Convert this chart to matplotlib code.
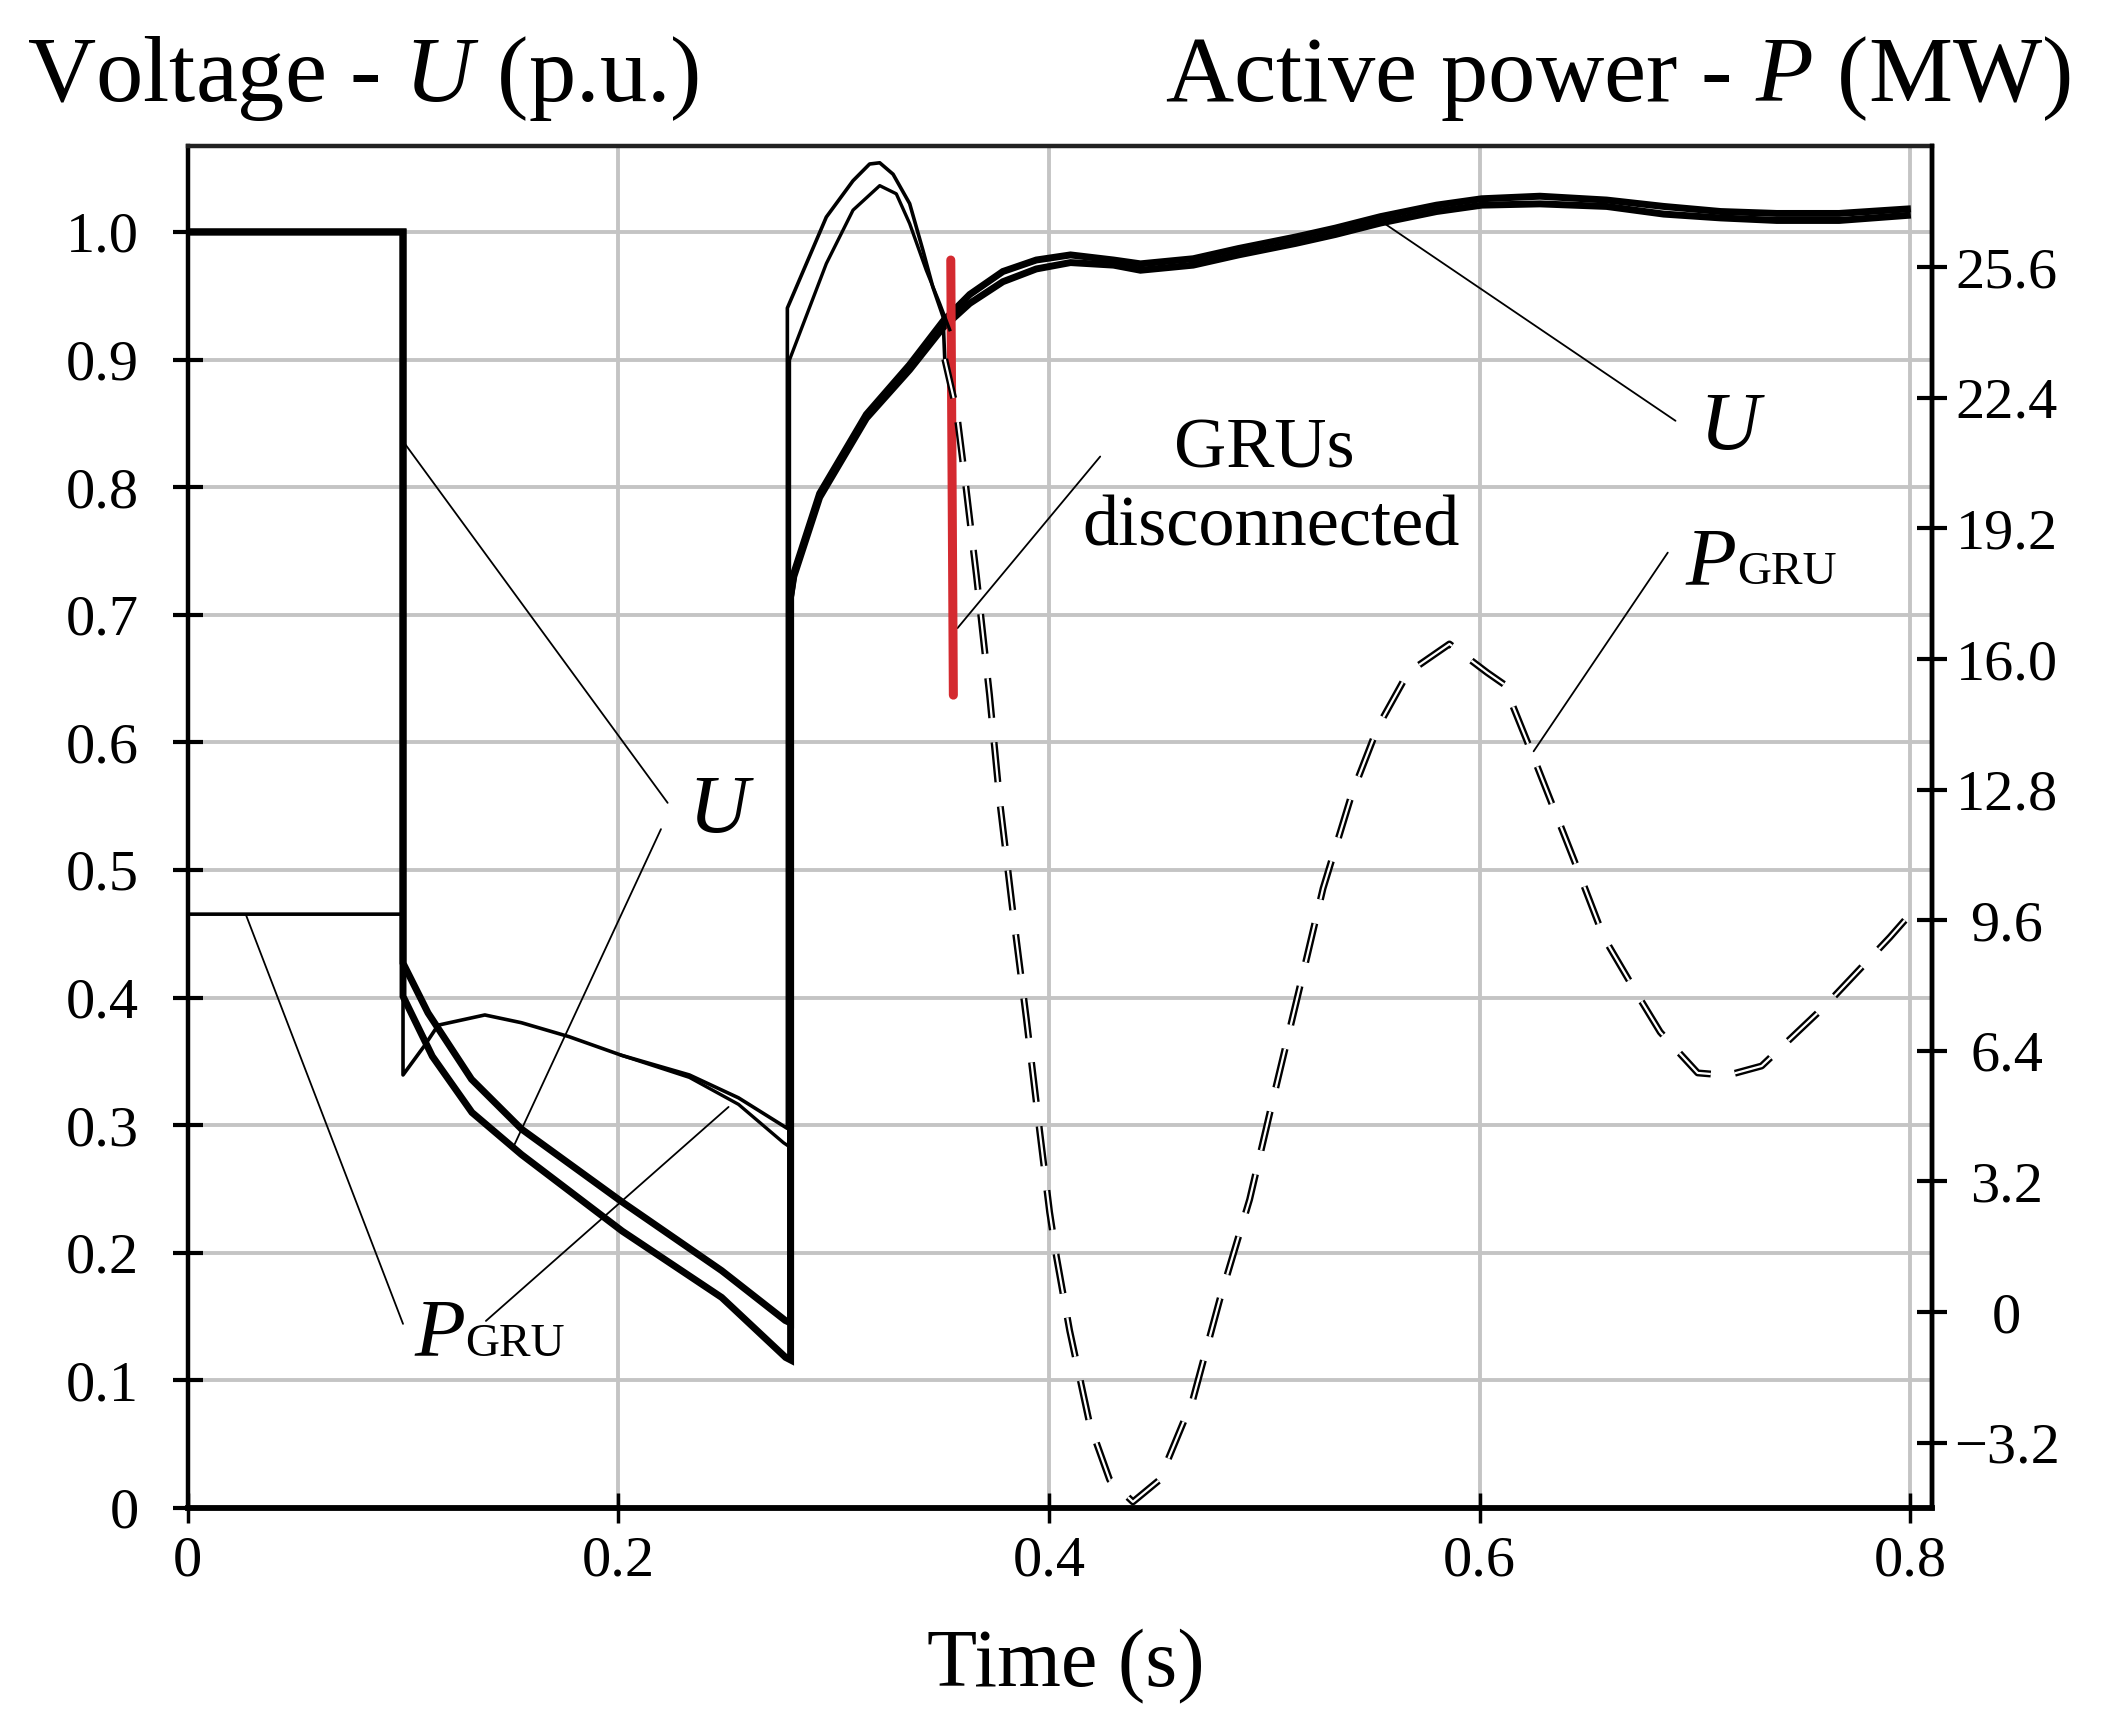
import matplotlib
matplotlib.use('Agg')
import matplotlib.pyplot as plt
import matplotlib.patheffects as pe

plt.rcParams['font.family'] = ['Liberation Serif', 'DejaVu Serif']
plt.rcParams['mathtext.fontset'] = 'custom'
plt.rcParams['mathtext.rm'] = 'Liberation Serif'
plt.rcParams['mathtext.it'] = 'Liberation Serif:italic'

# axis ticks
x_ticks = [0, 0.2, 0.4, 0.6, 0.8]
x_labels = ['0', '0.2', '0.4', '0.6', '0.8']
u_ticks = [0, 0.1, 0.2, 0.3, 0.4, 0.5, 0.6, 0.7, 0.8, 0.9, 1.0]
u_labels = ['0', '0.1', '0.2', '0.3', '0.4', '0.5', '0.6', '0.7', '0.8', '0.9', '1.0']
p_ticks = [-3.2, 0, 3.2, 6.4, 9.6, 12.8, 16.0, 19.2, 22.4, 25.6]
p_labels = ['\u22123.2', '0', '3.2', '6.4', '9.6', '12.8', '16.0', '19.2', '22.4', '25.6']

# voltage U (p.u.), two traces
t_u1 = [0, 0.1, 0.1, 0.1116, 0.1318, 0.155, 0.2016, 0.248, 0.2775, 0.28, 0.28, 0.2815,
        0.2935, 0.3152, 0.3353, 0.3508, 0.3632, 0.3786, 0.3941, 0.41, 0.43, 0.4425, 0.467,
        0.488, 0.5145, 0.533, 0.554, 0.58, 0.601, 0.628, 0.659, 0.6855, 0.712, 0.738,
        0.767, 0.7987]
u1 = [1.0, 1.0, 0.427, 0.388, 0.336, 0.297, 0.240, 0.186, 0.147, 0.145, 0.714, 0.7325,
      0.795, 0.857, 0.896, 0.930, 0.951, 0.969, 0.978, 0.982, 0.978, 0.975, 0.979,
      0.987, 0.996, 1.003, 1.012, 1.021, 1.026, 1.028, 1.025, 1.020, 1.016, 1.0145,
      1.0145, 1.018]
t_u2 = [0, 0.1, 0.1, 0.1136, 0.132, 0.155, 0.2018, 0.248, 0.2777, 0.28, 0.28, 0.2815,
        0.2935, 0.3152, 0.3353, 0.3508, 0.3632, 0.3786, 0.3941, 0.41, 0.43, 0.4425, 0.467,
        0.488, 0.5145, 0.533, 0.554, 0.58, 0.601, 0.628, 0.659, 0.6855, 0.712, 0.738,
        0.767, 0.7987]
u2 = [1.0, 1.0, 0.401, 0.354, 0.310, 0.277, 0.217, 0.165, 0.118, 0.116, 0.714, 0.730,
      0.792, 0.854, 0.892, 0.925, 0.944, 0.961, 0.971, 0.976, 0.974, 0.970, 0.974,
      0.982, 0.991, 0.998, 1.007, 1.016, 1.021, 1.022, 1.020, 1.014, 1.011, 1.009,
      1.009, 1.013]

# active power of GRU (MW), solid part (before disconnection)
t_pa = [0, 0.1, 0.1, 0.110, 0.1163, 0.138, 0.155, 0.177, 0.2016, 0.233, 0.2558, 0.2767,
        0.2785, 0.2785, 0.2966, 0.309, 0.3167, 0.3214, 0.3276, 0.3353, 0.3415, 0.3461,
        0.3508, 0.3516]
p_a = [9.75, 9.75, 5.81, 6.53, 7.03, 7.28, 7.09, 6.75, 6.29, 5.81, 5.25, 4.56,
       4.50, 24.6, 26.83, 27.72, 28.13, 28.16, 27.88, 27.16, 26.01, 25.11,
       24.39, 23.35]
t_pb = [0.2016, 0.233, 0.2558, 0.2767, 0.2795, 0.2795, 0.2966, 0.309, 0.3214, 0.3291,
        0.3353, 0.343, 0.3492, 0.3539]
p_b = [6.29, 5.75, 5.09, 4.15, 4.05, 23.33, 25.69, 27.0, 27.6, 27.4,
       26.67, 25.53, 24.72, 24.07]

# active power after GRUs disconnected (dashed)
t_pd = [0.3516, 0.357, 0.3608, 0.3663, 0.3724, 0.3771, 0.3833, 0.3895, 0.3957, 0.4003,
        0.4034, 0.4096, 0.4189, 0.4282, 0.439, 0.4514, 0.4669, 0.4793, 0.4932, 0.504,
        0.5164, 0.5273, 0.5406, 0.5528, 0.5668, 0.586, 0.6035, 0.6114, 0.6245, 0.6437,
        0.6577, 0.6734, 0.6839, 0.6926, 0.7013, 0.715, 0.731, 0.7608, 0.7905, 0.7975]
p_d = [23.35, 22.1, 20.5, 18.05, 15.12, 12.53, 9.78, 7.19, 4.43, 2.45,
       1.38, -0.45, -2.74, -4.11, -4.65, -4.11, -2.13, 0.30, 2.76, 5.20,
       7.94, 10.38, 12.68, 14.34, 15.67, 16.37, 15.67, 15.38, 13.67, 11.10,
       9.18, 7.77, 6.86, 6.36, 5.86, 5.80, 6.03, 7.52, 9.18, 9.60]

# red marker: moment of GRUs disconnection
red_t = [0.3544, 0.3556]
red_u = [0.978, 0.637]

fig = plt.figure(figsize=(21.02, 17.25), dpi=100)
ax = fig.add_axes([0.0893, 0.1258, 0.8297, 0.7893])
ax2 = ax.twinx()

ax.set_xlim(0, 0.81)
ax.set_ylim(0, 1.067)
ax2.set_ylim(-4.80, 28.56)

ax.set_axisbelow(True)
ax.grid(True, color='#c4c4c4', lw=2.8)

ax.plot(t_u1, u1, color='black', lw=5.0, solid_joinstyle='miter', zorder=3)
ax.plot(t_u2, u2, color='black', lw=5.0, solid_joinstyle='miter', zorder=3)
ax2.plot(t_pa, p_a, color='black', lw=2.6, zorder=3)
ax2.plot(t_pb, p_b, color='black', lw=2.4, zorder=3)
ax2.plot(t_pd, p_d, color='white', lw=1.6, linestyle=(0, (18, 11)),
         path_effects=[pe.Stroke(linewidth=5.0, foreground='black'), pe.Normal()], zorder=3)
ax.plot(red_t, red_u, color='#d42a30', lw=6.5, solid_capstyle='round', zorder=5)

# ticks
ax.set_xticks(x_ticks)
ax.set_xticklabels(x_labels)
ax.set_yticks(u_ticks)
ax.set_yticklabels(u_labels)
ax2.set_yticks(p_ticks)
ax2.set_yticklabels(p_labels)
ax.tick_params(axis='x', direction='inout', length=22, width=2.5, labelsize=42, pad=9)
ax.tick_params(axis='y', direction='inout', length=22, width=3, labelsize=42, pad=24)
ax2.tick_params(axis='y', direction='inout', length=22, width=3, labelsize=42, pad=43)
for lab in ax2.get_yticklabels():
    lab.set_horizontalalignment('center')

for s in ['left', 'top', 'right']:
    ax.spines[s].set_linewidth(3.2)
ax.spines['bottom'].set_linewidth(4.2)
ax.spines['top'].set_color('#222222')
for s in ['left', 'top', 'bottom']:
    ax2.spines[s].set_visible(False)
ax2.spines['right'].set_linewidth(3.2)

# annotations
lead = dict(arrowstyle='-', lw=1.3, color='black', shrinkA=0, shrinkB=0)
ax.text(0.2463, 0.545, 'U', style='italic', fontsize=60, ha='center', va='center')
ax.annotate('', xy=(0.1, 0.836), xytext=(0.2229, 0.5526), arrowprops=lead)
ax.annotate('', xy=(0.151, 0.282), xytext=(0.2198, 0.532), arrowprops=lead)

ax.text(0.1052, 0.1195, 'P', style='italic', fontsize=60, ha='left', va='baseline')
ax.text(0.129, 0.1195, 'GRU', fontsize=34, ha='left', va='baseline')
ax.annotate('', xy=(0.0271, 0.4646), xytext=(0.1, 0.1443), arrowprops=lead)
ax.annotate('', xy=(0.2512, 0.3143), xytext=(0.1385, 0.1466), arrowprops=lead)

ax.text(0.4999, 0.8154, 'GRUs', fontsize=52, ha='center', va='baseline')
ax.text(0.503, 0.7542, 'disconnected', fontsize=52, ha='center', va='baseline')
ax.annotate('', xy=(0.3575, 0.6895), xytext=(0.4238, 0.824), arrowprops=lead)

ax.text(0.7162, 0.845, 'U', style='italic', fontsize=60, ha='center', va='center')
ax.annotate('', xy=(0.5533, 1.0095), xytext=(0.691, 0.852), arrowprops=lead)

ax.text(0.6958, 0.7242, 'P', style='italic', fontsize=60, ha='left', va='baseline')
ax.text(0.7198, 0.7242, 'GRU', fontsize=34, ha='left', va='baseline')
ax.annotate('', xy=(0.6251, 0.593), xytext=(0.6874, 0.7487), arrowprops=lead)

# titles
fig.text(0.0128, 0.9417, 'Voltage - $U$ (p.u.)', fontsize=68, ha='left', va='baseline')
fig.text(0.9853, 0.9417, 'Active power - $P$ (MW)', fontsize=68, ha='right', va='baseline')
fig.text(0.507, 0.0226, 'Time (s)', fontsize=59, ha='center', va='baseline')

fig.savefig('out.png', dpi=100)
